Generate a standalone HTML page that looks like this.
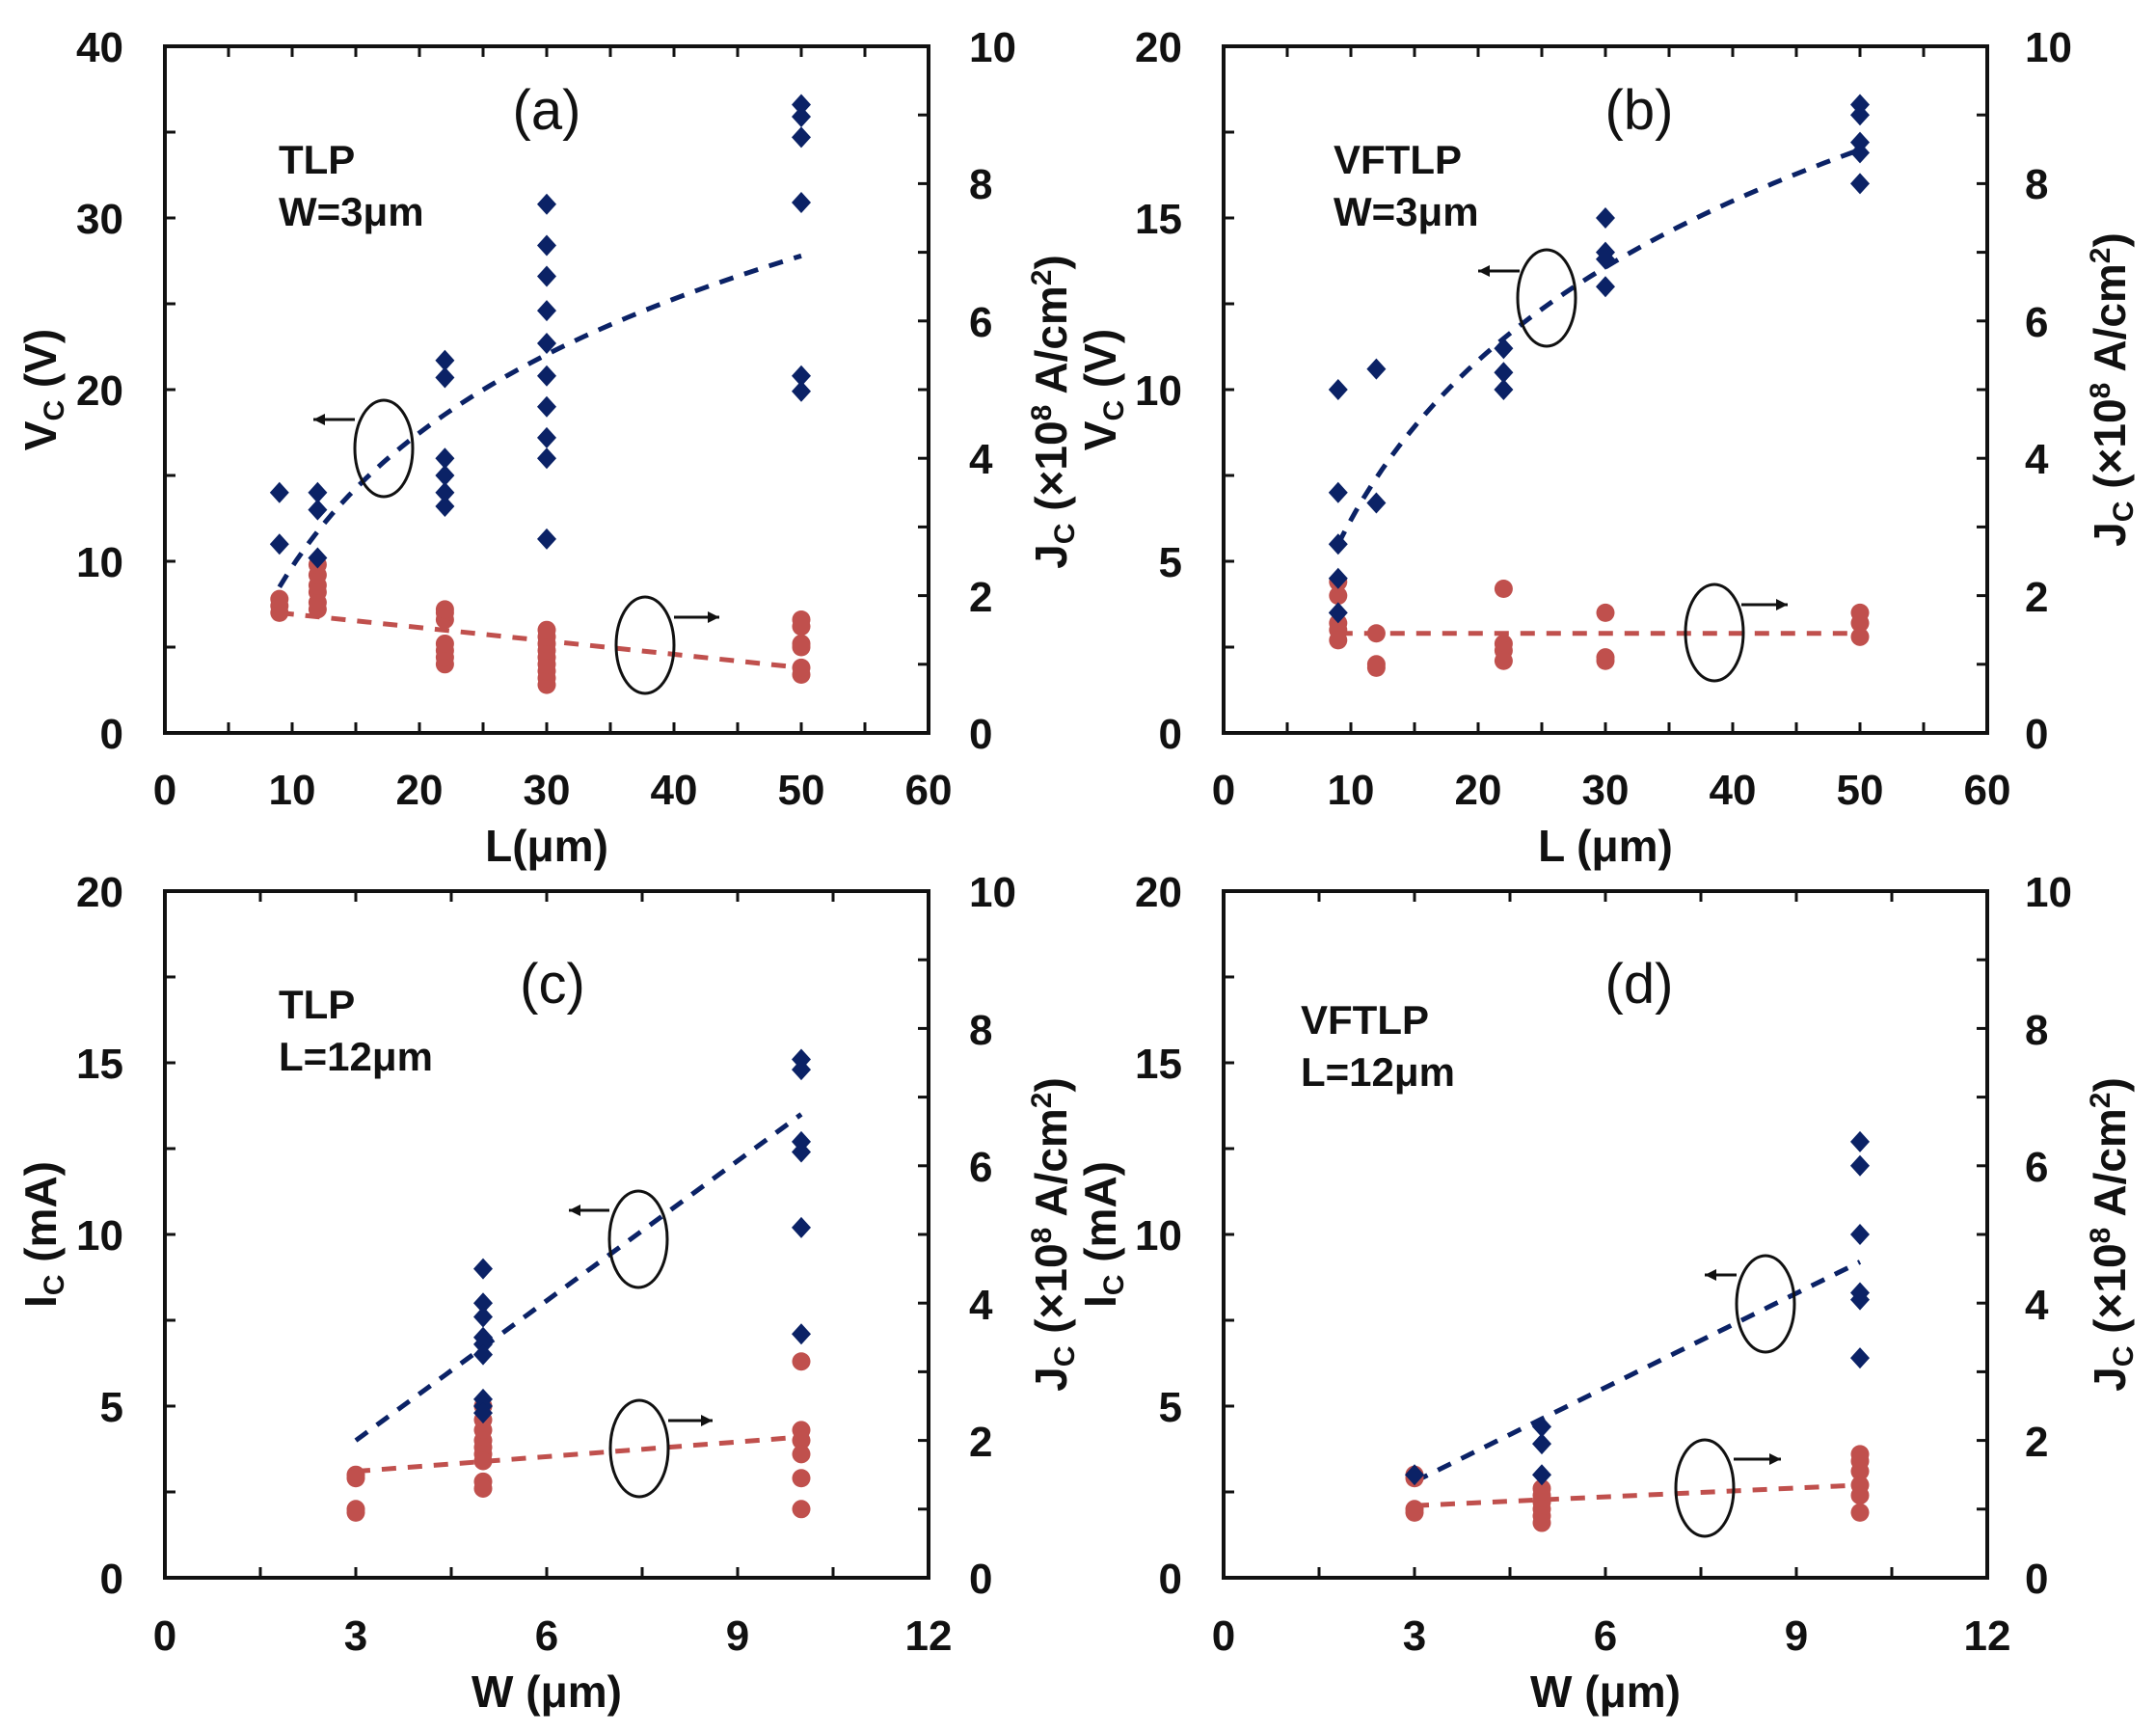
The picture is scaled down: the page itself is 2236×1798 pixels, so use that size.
<!DOCTYPE html>
<html><head><meta charset="utf-8"><style>
html,body{margin:0;padding:0;background:#fff;}
svg{display:block;}
text{font-family:"Liberation Sans",Arial,sans-serif;fill:#111;}
.t{font-size:44px;font-weight:bold;}
.at{font-size:46px;font-weight:bold;}
.pl{font-size:58px;}
.nt{font-size:42px;font-weight:bold;}
</style></head><body>
<svg id="s" width="2236" height="1798" viewBox="0 0 2236 1798" xmlns="http://www.w3.org/2000/svg">
<g id="g"></g>
<g class="t" text-anchor="end">
<text x="128" y="64">40</text><text x="128" y="242">30</text><text x="128" y="420">20</text><text x="128" y="598">10</text><text x="128" y="776">0</text>
<text x="1226" y="64">20</text><text x="1226" y="242">15</text><text x="1226" y="420">10</text><text x="1226" y="598">5</text><text x="1226" y="776">0</text>
<text x="128" y="940">20</text><text x="128" y="1118">15</text><text x="128" y="1296">10</text><text x="128" y="1474">5</text><text x="128" y="1652">0</text>
<text x="1226" y="940">20</text><text x="1226" y="1118">15</text><text x="1226" y="1296">10</text><text x="1226" y="1474">5</text><text x="1226" y="1652">0</text>
</g>
<g class="t" text-anchor="start">
<text x="1005" y="64">10</text><text x="1005" y="206">8</text><text x="1005" y="349">6</text><text x="1005" y="491">4</text><text x="1005" y="634">2</text><text x="1005" y="776">0</text>
<text x="2100" y="64">10</text><text x="2100" y="206">8</text><text x="2100" y="349">6</text><text x="2100" y="491">4</text><text x="2100" y="634">2</text><text x="2100" y="776">0</text>
<text x="1005" y="940">10</text><text x="1005" y="1083">8</text><text x="1005" y="1225">6</text><text x="1005" y="1368">4</text><text x="1005" y="1510">2</text><text x="1005" y="1652">0</text>
<text x="2100" y="940">10</text><text x="2100" y="1083">8</text><text x="2100" y="1225">6</text><text x="2100" y="1368">4</text><text x="2100" y="1510">2</text><text x="2100" y="1652">0</text>
</g>
<g class="t" text-anchor="middle">
<text x="171" y="834">0</text><text x="303" y="834">10</text><text x="435" y="834">20</text><text x="567" y="834">30</text><text x="699" y="834">40</text><text x="831" y="834">50</text><text x="963" y="834">60</text>
<text x="1269" y="834">0</text><text x="1401" y="834">10</text><text x="1533" y="834">20</text><text x="1665" y="834">30</text><text x="1797" y="834">40</text><text x="1929" y="834">50</text><text x="2061" y="834">60</text>
<text x="171" y="1711">0</text><text x="369" y="1711">3</text><text x="567" y="1711">6</text><text x="765" y="1711">9</text><text x="963" y="1711">12</text>
<text x="1269" y="1711">0</text><text x="1467" y="1711">3</text><text x="1665" y="1711">6</text><text x="1863" y="1711">9</text><text x="2061" y="1711">12</text>
</g>
<g class="at" text-anchor="middle">
<text x="567" y="893">L(μm)</text>
<text x="1665" y="893">L (μm)</text>
<text x="567" y="1770">W (μm)</text>
<text x="1665" y="1770">W (μm)</text>
<text transform="translate(58,404) rotate(-90)">V<tspan font-size="30" dy="8">C</tspan><tspan dy="-8"> (V)</tspan></text>
<text transform="translate(1157,404) rotate(-90)">V<tspan font-size="30" dy="8">C</tspan><tspan dy="-8"> (V)</tspan></text>
<text transform="translate(58,1280) rotate(-90)">I<tspan font-size="30" dy="8">C</tspan><tspan dy="-8"> (mA)</tspan></text>
<text transform="translate(1157,1280) rotate(-90)">I<tspan font-size="30" dy="8">C</tspan><tspan dy="-8"> (mA)</tspan></text>
<text transform="translate(1106,427) rotate(-90)">J<tspan font-size="30" dy="8">C</tspan><tspan dy="-8"> (×10</tspan><tspan font-size="30" dy="-16">8</tspan><tspan dy="16"> A/cm</tspan><tspan font-size="30" dy="-16">2</tspan><tspan dy="16">)</tspan></text>
<text transform="translate(2204,404) rotate(-90)">J<tspan font-size="30" dy="8">C</tspan><tspan dy="-8"> (×10</tspan><tspan font-size="30" dy="-16">8</tspan><tspan dy="16"> A/cm</tspan><tspan font-size="30" dy="-16">2</tspan><tspan dy="16">)</tspan></text>
<text transform="translate(1106,1280) rotate(-90)">J<tspan font-size="30" dy="8">C</tspan><tspan dy="-8"> (×10</tspan><tspan font-size="30" dy="-16">8</tspan><tspan dy="16"> A/cm</tspan><tspan font-size="30" dy="-16">2</tspan><tspan dy="16">)</tspan></text>
<text transform="translate(2204,1280) rotate(-90)">J<tspan font-size="30" dy="8">C</tspan><tspan dy="-8"> (×10</tspan><tspan font-size="30" dy="-16">8</tspan><tspan dy="16"> A/cm</tspan><tspan font-size="30" dy="-16">2</tspan><tspan dy="16">)</tspan></text>
</g>
<g class="pl" text-anchor="middle">
<text x="567" y="134">(a)</text><text x="1700" y="134">(b)</text><text x="573" y="1040">(c)</text><text x="1700" y="1040">(d)</text>
</g>
<g class="nt">
<text x="289" y="180">TLP</text><text x="289" y="234">W=3μm</text>
<text x="1383" y="180">VFTLP</text><text x="1383" y="234">W=3μm</text>
<text x="289" y="1056">TLP</text><text x="289" y="1110">L=12μm</text>
<text x="1349" y="1072">VFTLP</text><text x="1349" y="1126">L=12μm</text>
</g>
</svg>
<script>
var NS="http://www.w3.org/2000/svg",G=document.getElementById("g");
function el(t,a){var e=document.createElementNS(NS,t);for(var k in a)e.setAttribute(k,a[k]);G.appendChild(e);return e;}
var BL="#0b2266",RD="#c0504d";
function panel(P){
 var L=P.x0,R=P.x1,T=P.y0,B=P.y1;
 function X(v){return L+(v-P.xmin)/(P.xmax-P.xmin)*(R-L);}
 function YL(v){return B-v/P.lmax*(B-T);}
 function YR(v){return B-v/P.rmax*(B-T);}
 el("rect",{x:L,y:T,width:R-L,height:B-T,fill:"none",stroke:"#111","stroke-width":4});
 var tk=11;
 for(var v=P.xmin;v<=P.xmax+1e-9;v+=P.xminor){var x=X(v);
  el("line",{x1:x,y1:B,x2:x,y2:B-tk,stroke:"#111","stroke-width":3});
  el("line",{x1:x,y1:T,x2:x,y2:T+tk,stroke:"#111","stroke-width":3});}
 for(v=0;v<=P.lmax+1e-9;v+=P.lminor){var y=YL(v);el("line",{x1:L,y1:y,x2:L+tk,y2:y,stroke:"#111","stroke-width":3});}
 for(v=0;v<=P.rmax+1e-9;v+=1){var y=YR(v);el("line",{x1:R,y1:y,x2:R-tk,y2:y,stroke:"#111","stroke-width":3});}
 var pts=[];for(var i=0;i<=60;i++){var xv=P.bt[0]+(P.bt[1]-P.bt[0])*i/60;pts.push(X(xv)+","+YL(P.bf(xv)));}
 el("polyline",{points:pts.join(" "),fill:"none",stroke:BL,"stroke-width":5,"stroke-dasharray":"15 12"});
 el("line",{x1:X(P.rt[0]),y1:YR(P.rt[1]),x2:X(P.rt[2]),y2:YR(P.rt[3]),stroke:RD,"stroke-width":5,"stroke-dasharray":"15 12"});
 P.red.forEach(function(g){g[1].forEach(function(v){el("circle",{cx:X(g[0]),cy:YR(v),r:9.5,fill:RD});});});
 P.blue.forEach(function(g){g[1].forEach(function(v){var x=X(g[0]),y=YL(v);
  el("polygon",{points:x+","+(y-11)+" "+(x+10)+","+y+" "+x+","+(y+11)+" "+(x-10)+","+y,fill:BL});});});
 P.ell.forEach(function(e){
  el("ellipse",{cx:e[0],cy:e[1],rx:30,ry:50,fill:"none",stroke:"#111","stroke-width":3});
  el("line",{x1:e[2],y1:e[3],x2:e[4],y2:e[3],stroke:"#111","stroke-width":3});
  var d=e[4]<e[2]?1:-1;
  el("polygon",{points:e[4]+","+e[3]+" "+(e[4]+d*12)+","+(e[3]-6)+" "+(e[4]+d*12)+","+(e[3]+6),fill:"#111"});
 });
}
panel({x0:171,x1:963,y0:48,y1:760,xmin:0,xmax:60,xminor:5,lmax:40,lminor:5,rmax:10,
 bt:[9,50],bf:function(x){return 8.5+11.25*Math.log(x/9);},rt:[9,1.75,50,0.95],
 blue:[[9,[14,11]],[12,[14,13,10.2]],[22,[21.7,20.7,16,15,14,13.2]],[30,[30.8,28.4,26.6,24.6,22.7,20.8,19,17.2,16,11.3]],[50,[36.6,35.9,34.7,30.9,20.8,19.9]]],
 red:[[9,[1.75,1.85,1.95]],[12,[1.8,1.9,2.05,2.15,2.3,2.45]],[22,[1.0,1.1,1.2,1.3,1.65,1.75,1.8]],[30,[0.7,0.8,0.9,1.0,1.1,1.2,1.3,1.4,1.5]],[50,[0.85,0.95,1.25,1.3,1.55,1.65]]],
 ell:[[398,465,368,435,325],[669,669,699,640,746]]});
panel({x0:1269,x1:2061,y0:48,y1:760,xmin:0,xmax:60,xminor:5,lmax:20,lminor:2.5,rmax:10,
 bt:[9,50],bf:function(x){return 5.5+6.7*Math.log(x/9);},rt:[9,1.45,50,1.45],
 blue:[[9,[10,7,5.5,4.5,3.5]],[12,[10.6,6.7]],[22,[11.2,10.5,10.0]],[30,[15,14,13.8,13]],[50,[18.3,18,17.2,16.9,16]]],
 red:[[9,[2.2,2.0,1.6,1.5,1.35]],[12,[1.45,1.0,0.95]],[22,[2.1,1.3,1.2,1.05]],[30,[1.75,1.1,1.05]],[50,[1.75,1.6,1.4]]],
 ell:[[1604,309,1576,281,1533],[1778,656,1806,627,1854]]});
panel({x0:171,x1:963,y0:924,y1:1636,xmin:0,xmax:12,xminor:1.5,lmax:20,lminor:2.5,rmax:10,
 bt:[3,10],bf:function(x){return 4+(x-3)*9.5/7;},rt:[3,1.55,10,2.05],
 blue:[[5,[9,8,7.6,7,6.8,6.5,5.2,5,4.8]],[10,[15.1,14.8,12.7,12.4,10.2,7.1]]],
 red:[[3,[1.5,1.45,1.0,0.95]],[5,[2.5,2.3,2.15,2.0,1.9,1.8,1.7,1.4,1.3]],[10,[3.15,2.15,2.0,1.8,1.45,1.0]]],
 ell:[[662,1285,632,1255,590],[663,1502,693,1473,739]]});
panel({x0:1269,x1:2061,y0:924,y1:1636,xmin:0,xmax:12,xminor:1.5,lmax:20,lminor:2.5,rmax:10,
 bt:[3,10],bf:function(x){return 2.8+(x-3)*6.4/7;},rt:[3,1.05,10,1.35],
 blue:[[3,[3.0]],[5,[4.4,3.9,3.0]],[10,[12.7,12,10,8.3,8.1,6.4]]],
 red:[[3,[1.5,1.45,1.0,0.95]],[5,[1.3,1.2,1.1,1.0,0.9,0.8]],[10,[1.8,1.7,1.55,1.35,1.2,0.95]]],
 ell:[[1831,1352,1801,1322,1768],[1768,1543,1798,1513,1847]]});
</script>
</body></html>
